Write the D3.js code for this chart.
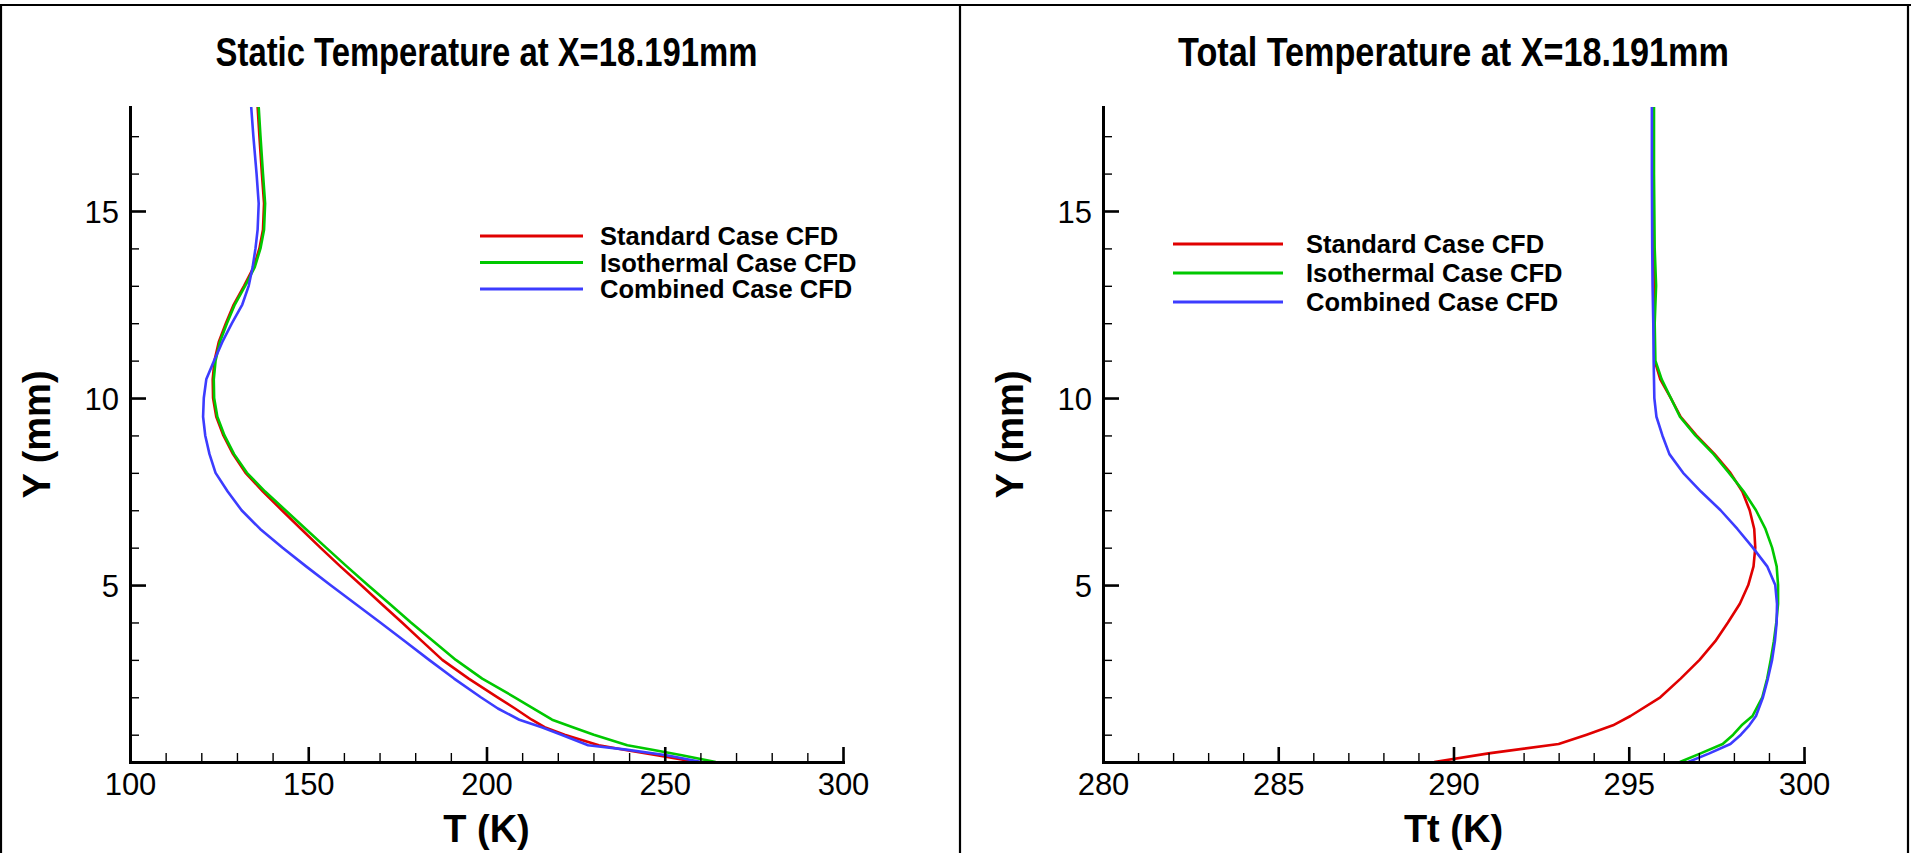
<!DOCTYPE html>
<html>
<head>
<meta charset="utf-8">
<script src="https://cdn.jsdelivr.net/npm/d3@7"></script>
<style>
  html, body { margin: 0; padding: 0; background: #ffffff; }
  svg { display: block; }
</style>
</head>
<body>
<svg id="chart" width="1911" height="853"></svg>
<script>
// ---------------- DATA ----------------
const seriesNames = ["Standard Case CFD", "Isothermal Case CFD", "Combined Case CFD"];
const seriesColors = ["#e00000", "#00c800", "#3c3cff"];

const staticTitle = "Static Temperature at X=18.191mm";
const totalTitle = "Total Temperature at X=18.191mm";
const staticXLabel = "T (K)";
const totalXLabel = "Tt (K)";
const yLabel = "Y (mm)";

const yDomain = [0.27, 17.78];
const staticXDomain = [100, 300];
const totalXDomain = [280, 300];
const staticXTicks = [100, 150, 200, 250, 300];
const totalXTicks = [280, 285, 290, 295, 300];
const yTicks = [5, 10, 15];

// Static temperature profiles (Y in mm, T in K)
const staticY = [17.78, 17, 16, 15.2, 14.5, 14, 13.5, 13, 12.5, 12, 11.5, 11, 10.5, 10, 9.5, 9, 8.5, 8, 7.5, 7,
  6.5, 6, 5.5, 5, 4.5, 4, 3.5, 3, 2.5, 2, 1.7, 1.4, 1.2, 1.0, 0.72, 0.6, 0.45, 0.27];
const staticStandard = [135.8, 136.3, 137.0, 137.6, 137.3, 136.3, 134.7, 132.0, 129.1, 126.9, 124.9, 123.7, 123.2, 123.3, 124.2, 126.2, 128.9, 132.4, 137.3, 142.6,
  148.0, 153.4, 159.0, 164.8, 170.5, 176.3, 181.9, 187.6, 195.0, 203.1, 208.0, 212.7, 216.3, 221.9, 231.5, 238.6, 247.8, 258.9];
const staticIsothermal = [136.1, 136.6, 137.3, 137.9, 137.6, 136.6, 135.0, 132.3, 129.4, 127.2, 125.2, 124.0, 123.5, 123.6, 124.5, 126.5, 129.2, 132.8, 137.9, 143.6,
  149.3, 155.0, 160.8, 166.7, 172.8, 178.8, 185.1, 191.4, 198.8, 207.9, 213.2, 218.4, 224.2, 230.1, 239.5, 246.5, 254.8, 264.3];
const staticCombined = [134.0, 134.6, 135.5, 136.1, 135.8, 135.2, 134.4, 133.3, 131.5, 128.6, 125.9, 123.6, 121.4, 120.7, 120.5, 121.1, 122.3, 124.0, 127.4, 131.3,
  136.5, 142.8, 149.4, 156.2, 163.2, 170.2, 177.1, 183.9, 190.9, 198.4, 203.2, 209.2, 215.5, 221.0, 228.5, 239.2, 250.5, 260.3];

// Total temperature profiles (Y in mm, Tt in K)
const totalY = [17.78, 16, 14, 13, 12, 11, 10.5, 10, 9.5, 9, 8.5, 8, 7.5, 7, 6.5, 6, 5.5, 5, 4.5, 4,
  3.5, 3, 2.5, 2, 1.5, 1.25, 1, 0.75, 0.5, 0.27];
const totalStandard = [295.70, 295.70, 295.71, 295.74, 295.72, 295.74, 295.90, 296.20, 296.48, 296.93, 297.45, 297.90, 298.24, 298.45, 298.58, 298.61, 298.56, 298.41, 298.17, 297.83,
  297.47, 297.02, 296.48, 295.90, 295.05, 294.55, 293.80, 293.00, 291.00, 289.45];
const totalIsothermal = [295.72, 295.72, 295.74, 295.78, 295.74, 295.76, 295.94, 296.20, 296.46, 296.90, 297.42, 297.86, 298.28, 298.63, 298.90, 299.09, 299.22, 299.26, 299.26, 299.21,
  299.14, 299.05, 298.95, 298.81, 298.53, 298.22, 297.98, 297.68, 297.05, 296.46];
const totalCombined = [295.66, 295.66, 295.67, 295.68, 295.70, 295.71, 295.72, 295.73, 295.79, 295.96, 296.16, 296.55, 297.06, 297.62, 298.10, 298.54, 298.95, 299.18, 299.23, 299.22,
  299.17, 299.09, 298.97, 298.83, 298.63, 298.44, 298.20, 297.90, 297.30, 296.70];

// ---------------- DRAWING ----------------
const FONT = "'Liberation Sans', Arial, Helvetica, sans-serif";
const svg = d3.select("#chart").style("font-family", FONT);

svg.append("rect").attr("width", 1911).attr("height", 853).attr("fill", "#ffffff");

// frame
const frame = svg.append("g").attr("stroke", "#000").attr("stroke-width", 2.2).attr("fill", "none");
frame.append("line").attr("x1", 0).attr("x2", 1911).attr("y1", 5).attr("y2", 5);
frame.append("line").attr("x1", 1).attr("x2", 1).attr("y1", 5).attr("y2", 853);
frame.append("line").attr("x1", 1908).attr("x2", 1908).attr("y1", 5).attr("y2", 853);
frame.append("line").attr("x1", 960).attr("x2", 960).attr("y1", 5).attr("y2", 853);

const plotTop = 107, plotBottom = 762;

function drawPanel(cfg) {
  const g = svg.append("g");
  const x = d3.scaleLinear().domain(cfg.xDomain).range([cfg.left, cfg.right]);
  const y = d3.scaleLinear().domain(yDomain).range([plotBottom, plotTop]);

  const clipId = "clip-" + cfg.id;
  svg.append("clipPath").attr("id", clipId)
    .append("rect").attr("x", cfg.left).attr("y", plotTop)
    .attr("width", cfg.right - cfg.left + 20).attr("height", plotBottom - plotTop);

  // curves
  const line = d3.line().x(d => x(d[0])).y(d => y(d[1]));
  const curves = g.append("g").attr("clip-path", `url(#${clipId})`);
  cfg.series.forEach((vals, i) => {
    const pts = vals.map((v, k) => [v, cfg.ys[k]]);
    curves.append("path").datum(pts)
      .attr("d", line)
      .attr("fill", "none")
      .attr("stroke", seriesColors[i])
      .attr("stroke-width", 2.6)
      .attr("stroke-linejoin", "round");
  });

  // minor ticks
  const xMinor = d3.range(cfg.xDomain[0], cfg.xDomain[1] + 1e-9, cfg.xMinorStep)
    .filter(v => !cfg.xTicks.some(t => Math.abs(t - v) < 1e-6));
  const yMinor = d3.range(1, 18, 1).filter(v => !yTicks.includes(v) && v > yDomain[0] && v < yDomain[1]);

  const xMinorAxis = g.append("g").attr("transform", `translate(0,${plotBottom})`)
    .call(d3.axisBottom(x).tickValues(xMinor).tickSize(-9).tickSizeOuter(0).tickFormat(""));
  xMinorAxis.select(".domain").remove();
  xMinorAxis.selectAll(".tick line").attr("stroke", "#000").attr("stroke-width", 1.4);

  const yMinorAxis = g.append("g").attr("transform", `translate(${cfg.left},0)`)
    .call(d3.axisLeft(y).tickValues(yMinor).tickSize(-9).tickSizeOuter(0).tickFormat(""));
  yMinorAxis.select(".domain").remove();
  yMinorAxis.selectAll(".tick line").attr("stroke", "#000").attr("stroke-width", 1.4);

  // major axes
  const xAxis = g.append("g").attr("transform", `translate(0,${plotBottom})`)
    .call(d3.axisBottom(x).tickValues(cfg.xTicks).tickSize(-15).tickSizeOuter(0).tickPadding(11).tickFormat(d3.format("d")));
  xAxis.select(".domain").attr("stroke", "#000").attr("stroke-width", 3).attr("stroke-linecap", "square");
  xAxis.selectAll(".tick line").attr("stroke", "#000").attr("stroke-width", 2.6);
  xAxis.selectAll(".tick text").attr("fill", "#000")
    .style("font-family", FONT).style("font-size", "31px");

  const yAxis = g.append("g").attr("transform", `translate(${cfg.left},0)`)
    .call(d3.axisLeft(y).tickValues(yTicks).tickSize(-16).tickSizeOuter(0).tickPadding(11).tickFormat(d3.format("d")));
  yAxis.select(".domain").attr("stroke", "#000").attr("stroke-width", 3).attr("stroke-linecap", "square");
  yAxis.selectAll(".tick line").attr("stroke", "#000").attr("stroke-width", 2.6);
  yAxis.selectAll(".tick text").attr("fill", "#000").attr("dy", "0.36em")
    .style("font-family", FONT).style("font-size", "31px");

  // title (condensed bold)
  const title = g.append("text")
    .attr("x", (cfg.left + cfg.right) / 2).attr("y", 66)
    .attr("text-anchor", "middle")
    .style("font-weight", "bold").style("font-size", "40px")
    .text(cfg.title);
  const natural = title.node().getComputedTextLength();
  title.attr("textLength", natural * cfg.titleSqueeze).attr("lengthAdjust", "spacingAndGlyphs");

  // axis labels
  g.append("text")
    .attr("x", x((cfg.xDomain[0] + cfg.xDomain[1]) / 2)).attr("y", 842)
    .attr("text-anchor", "middle")
    .style("font-weight", "bold").style("font-size", "38px")
    .text(cfg.xLabel);

  g.append("text")
    .attr("transform", `translate(${cfg.left - 80},${(plotTop + plotBottom) / 2}) rotate(-90)`)
    .attr("text-anchor", "middle")
    .style("font-weight", "bold").style("font-size", "38px")
    .text(yLabel);

  // legend
  const lg = g.append("g");
  seriesNames.forEach((name, i) => {
    const ly = cfg.legendY + i * cfg.legendStep;
    lg.append("line")
      .attr("x1", cfg.legendX).attr("x2", cfg.legendX + cfg.legendLen)
      .attr("y1", ly).attr("y2", ly)
      .attr("stroke", seriesColors[i]).attr("stroke-width", 3);
    lg.append("text")
      .attr("x", cfg.legendTextX).attr("y", ly).attr("dy", "0.36em")
      .style("font-weight", "bold").style("font-size", "25.5px")
      .text(name);
  });
}

drawPanel({
  id: "static", left: 130, right: 843, xDomain: staticXDomain, xTicks: staticXTicks, xMinorStep: 10,
  ys: staticY, series: [staticStandard, staticIsothermal, staticCombined],
  title: staticTitle, xLabel: staticXLabel, titleSqueeze: 0.82,
  legendX: 480, legendLen: 103, legendTextX: 600, legendY: 236, legendStep: 26.5
});

drawPanel({
  id: "total", left: 1103, right: 1804, xDomain: totalXDomain, xTicks: totalXTicks, xMinorStep: 1,
  ys: totalY, series: [totalStandard, totalIsothermal, totalCombined],
  title: totalTitle, xLabel: totalXLabel, titleSqueeze: 0.855,
  legendX: 1173, legendLen: 110, legendTextX: 1306, legendY: 244, legendStep: 29
});
</script>
</body>
</html>
